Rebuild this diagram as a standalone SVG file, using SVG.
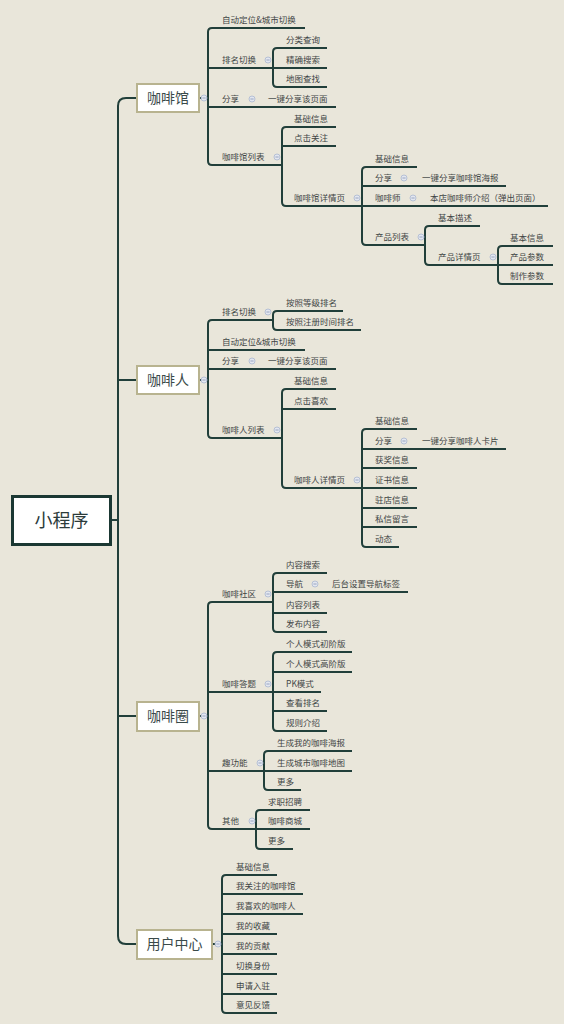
<svg xmlns="http://www.w3.org/2000/svg" xmlns:xlink="http://www.w3.org/1999/xlink" width="564" height="1024" viewBox="0 0 564 1024">
<style>
.ln{fill:none;stroke:#213f3a;stroke-width:2}
.t{font-family:"Noto Sans CJK SC","Noto Sans",sans-serif;font-size:8.5px;fill:#3f4545}
.n1{fill:#ffffff;stroke:#b8b38f;stroke-width:2}
.t1{font-family:"Noto Sans CJK SC","Noto Sans",sans-serif;font-size:14px;fill:#3a4a4a;text-anchor:middle}
</style>
<defs>
<g id="col"><circle r="3" fill="#e3e7f0" stroke="#a9b6cf" stroke-width="0.8"/><path d="M-1.6 0H1.6" stroke="#8796b5" stroke-width="0.8"/></g>
</defs>
<rect width="564" height="1024" fill="#e9e6da"/>
<g id="connectors" class="ln">
<path d="M136 98H126Q118 98 118 106V936Q118 944 126 944H136M118 380H136M118 716H136M112 520H118"/>
<!-- 咖啡馆 -->
<path d="M200 98H208M212 28Q208 28 208 32V161Q208 165 212 165M212 28H305M208 68H273M208 107H336M212 165H282"/>
<path d="M277 48Q273 48 273 52V83Q273 87 277 87M277 48H327M273 68H327M277 87H327"/>
<path d="M286 127Q282 127 282 131V202Q282 206 286 206M286 127H336M282 146H336M286 206H548"/>
<path d="M366 167Q362 167 362 171V241Q362 245 366 245M366 167H417M362 186H506M366 245H425"/>
<path d="M429 226Q425 226 425 230V261Q425 265 429 265M429 226H480M429 265H553"/>
<path d="M502 246Q498 246 498 250V280Q498 284 502 284M502 246H553M502 284H553"/>
<!-- 咖啡人 -->
<path d="M200 380H208M212 320Q208 320 208 324V434Q208 438 212 438M212 320H273M208 350H305M208 369H336M212 438H282"/>
<path d="M277 311Q273 311 273 315V326Q273 330 277 330M277 311H343M277 330H361"/>
<path d="M286 389Q282 389 282 393V484Q282 488 286 488M286 389H336M282 409H336M286 488H417"/>
<path d="M366 429Q362 429 362 433V543Q362 547 366 547M366 429H417M362 449H506M362 468H417M362 508H417M362 527H417M366 547H399"/>
<!-- 咖啡圈 -->
<path d="M200 716H208M212 602Q208 602 208 606V825Q208 829 212 829M212 602H273M208 692H321M208 771H264M212 829H256"/>
<path d="M277 573Q273 573 273 577V628Q273 632 277 632M277 573H327M273 592H408M273 613H327M277 632H327"/>
<path d="M277 652Q273 652 273 656V727Q273 731 277 731M277 652H352M273 672H352M273 711H327M277 731H327"/>
<path d="M268 751Q264 751 264 755V786Q264 790 268 790M268 751H352M264 771H352M268 790H301"/>
<path d="M260 810Q256 810 256 814V845Q256 849 260 849M260 810H310M256 829H310M260 849H293"/>
<!-- 用户中心 -->
<path d="M213 944H222M226 875Q222 875 222 879V1009Q222 1013 226 1013M226 875H277M222 894H303M222 914H303M222 934H277M222 954H277M222 974H277M222 994H277M226 1013H277"/>
</g>
<g id="root">
<rect x="12.5" y="496.5" width="98" height="48" fill="#ffffff" stroke="#1b3833" stroke-width="3"/>
<text x="61.5" y="527" font-family="Noto Sans CJK SC, sans-serif" font-size="18" fill="#2c3b3b" text-anchor="middle">小程序</text>
</g>
<g id="n-kafeiguan">
<rect class="n1" x="137" y="84" width="62" height="28"/>
<text class="t1" x="168" y="103">咖啡馆</text>
<use xlink:href="#col" x="204" y="98"/>
<text class="t" x="222" y="23">自动定位&amp;城市切换</text>
<text class="t" x="222" y="63">排名切换</text><use xlink:href="#col" x="268" y="60"/>
<text class="t" x="286" y="43">分类查询</text>
<text class="t" x="286" y="63">精确搜索</text>
<text class="t" x="286" y="82">地图查找</text>
<text class="t" x="222" y="102">分享</text><use xlink:href="#col" x="252" y="99"/>
<text class="t" x="268" y="102">一键分享该页面</text>
<text class="t" x="222" y="160">咖啡馆列表</text><use xlink:href="#col" x="277" y="157"/>
<text class="t" x="294" y="122">基础信息</text>
<text class="t" x="294" y="141">点击关注</text>
<text class="t" x="294" y="201">咖啡馆详情页</text><use xlink:href="#col" x="357" y="198"/>
<text class="t" x="375" y="162">基础信息</text>
<text class="t" x="375" y="181">分享</text><use xlink:href="#col" x="404" y="178"/>
<text class="t" x="422" y="181">一键分享咖啡馆海报</text>
<text class="t" x="375" y="201">咖啡师</text><use xlink:href="#col" x="413" y="198"/>
<text class="t" x="430" y="201">本店咖啡师介绍（弹出页面）</text>
<text class="t" x="375" y="240">产品列表</text><use xlink:href="#col" x="421" y="237"/>
<text class="t" x="438" y="221">基本描述</text>
<text class="t" x="438" y="260">产品详情页</text><use xlink:href="#col" x="493" y="257"/>
<text class="t" x="510" y="241">基本信息</text>
<text class="t" x="510" y="260">产品参数</text>
<text class="t" x="510" y="279">制作参数</text>
</g>
<g id="n-kafeiren">
<rect class="n1" x="137" y="366" width="62" height="28"/>
<text class="t1" x="168" y="385">咖啡人</text>
<use xlink:href="#col" x="204" y="380"/>
<text class="t" x="222" y="315">排名切换</text><use xlink:href="#col" x="268" y="312"/>
<text class="t" x="286" y="306">按照等级排名</text>
<text class="t" x="286" y="325">按照注册时间排名</text>
<text class="t" x="222" y="345">自动定位&amp;城市切换</text>
<text class="t" x="222" y="364">分享</text><use xlink:href="#col" x="252" y="361"/>
<text class="t" x="268" y="364">一键分享该页面</text>
<text class="t" x="222" y="433">咖啡人列表</text><use xlink:href="#col" x="277" y="430"/>
<text class="t" x="294" y="384">基础信息</text>
<text class="t" x="294" y="404">点击喜欢</text>
<text class="t" x="294" y="483">咖啡人详情页</text><use xlink:href="#col" x="357" y="480"/>
<text class="t" x="375" y="424">基础信息</text>
<text class="t" x="375" y="444">分享</text><use xlink:href="#col" x="404" y="441"/>
<text class="t" x="422" y="444">一键分享咖啡人卡片</text>
<text class="t" x="375" y="463">获奖信息</text>
<text class="t" x="375" y="483">证书信息</text>
<text class="t" x="375" y="503">驻店信息</text>
<text class="t" x="375" y="522">私信留言</text>
<text class="t" x="375" y="542">动态</text>
</g>
<g id="n-kafeiquan">
<rect class="n1" x="137" y="702" width="62" height="29"/>
<text class="t1" x="168" y="721">咖啡圈</text>
<use xlink:href="#col" x="204" y="716"/>
<text class="t" x="222" y="597">咖啡社区</text><use xlink:href="#col" x="268" y="594"/>
<text class="t" x="286" y="568">内容搜索</text>
<text class="t" x="286" y="587">导航</text><use xlink:href="#col" x="315" y="584"/>
<text class="t" x="332" y="587">后台设置导航标签</text>
<text class="t" x="286" y="608">内容列表</text>
<text class="t" x="286" y="627">发布内容</text>
<text class="t" x="222" y="687">咖啡答题</text><use xlink:href="#col" x="268" y="684"/>
<text class="t" x="286" y="647">个人模式初阶版</text>
<text class="t" x="286" y="667">个人模式高阶版</text>
<text class="t" x="286" y="687">PK模式</text>
<text class="t" x="286" y="706">查看排名</text>
<text class="t" x="286" y="726">规则介绍</text>
<text class="t" x="222" y="766">趣功能</text><use xlink:href="#col" x="260" y="763"/>
<text class="t" x="277" y="746">生成我的咖啡海报</text>
<text class="t" x="277" y="766">生成城市咖啡地图</text>
<text class="t" x="277" y="785">更多</text>
<text class="t" x="222" y="824">其他</text><use xlink:href="#col" x="252" y="821"/>
<text class="t" x="268" y="805">求职招聘</text>
<text class="t" x="268" y="824">咖啡商城</text>
<text class="t" x="268" y="844">更多</text>
</g>
<g id="n-yonghuzhongxin">
<rect class="n1" x="137" y="930" width="75" height="29"/>
<text class="t1" x="174.5" y="949">用户中心</text>
<use xlink:href="#col" x="218" y="944"/>
<text class="t" x="236" y="870">基础信息</text>
<text class="t" x="236" y="889">我关注的咖啡馆</text>
<text class="t" x="236" y="909">我喜欢的咖啡人</text>
<text class="t" x="236" y="929">我的收藏</text>
<text class="t" x="236" y="949">我的贡献</text>
<text class="t" x="236" y="969">切换身份</text>
<text class="t" x="236" y="989">申请入驻</text>
<text class="t" x="236" y="1008">意见反馈</text>
</g>
</svg>
